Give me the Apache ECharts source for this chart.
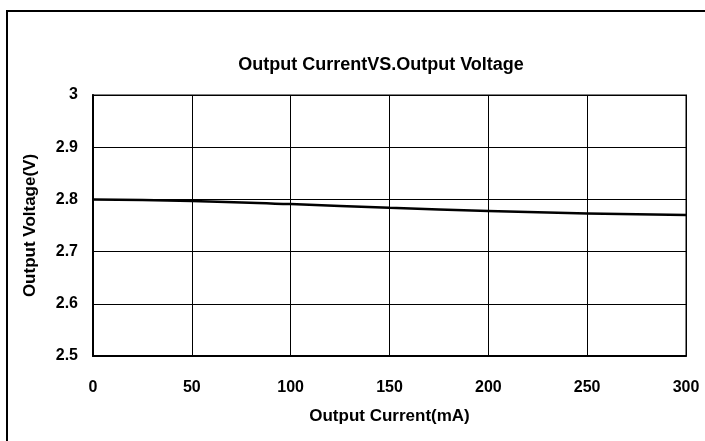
<!DOCTYPE html>
<html>
<head>
<meta charset="utf-8">
<script src="https://cdn.jsdelivr.net/npm/echarts@6/dist/echarts.min.js"></script>
<style>
  html, body { margin: 0; padding: 0; background: #fff; }
  #chart { width: 705px; height: 441px; }
</style>
</head>
<body>
<div id="chart"></div>
<script>
// values
var currentMA = [0, 50, 100, 150, 200, 250, 300];
var voltageV = [2.800, 2.797, 2.791, 2.784, 2.778, 2.773, 2.770];

var titleText = "Output CurrentVS.Output Voltage";
var xName = "Output Current(mA)";
var yName = "Output Voltage(V)";

var font = "'Liberation Sans', Arial, sans-serif";

var points = [];
for (var i = 0; i < currentMA.length; i++) {
  points.push([currentMA[i], voltageV[i]]);
}

var myChart = echarts.init(document.getElementById("chart"));
var option = {
  backgroundColor: "#fff",
  animation: false,
  title: {
    text: titleText,
    left: 376,
    top: 51,
    textAlign: "center",
    textStyle: { fontFamily: font, fontSize: 18, fontWeight: "bold", color: "#000" }
  },
  graphic: [
    {
      // outer frame, only top and left edges visible
      type: "rect",
      shape: { x: 7, y: 11, width: 760, height: 500 },
      style: { fill: null, stroke: "#000", lineWidth: 2 },
      silent: true
    }
  ],
  grid: {
    left: 93,
    right: 19,
    top: 95,
    bottom: 85,
    show: true,
    borderColor: "#808080",
    borderWidth: 2
  },
  xAxis: {
    type: "value",
    min: 0,
    max: 300,
    interval: 50,
    name: xName,
    nameLocation: "middle",
    nameGap: 52,
    nameTextStyle: { fontFamily: font, fontSize: 17, fontWeight: "bold", color: "#000" },
    axisLine: { show: true, onZero: false, lineStyle: { color: "#000", width: 2 } },
    axisTick: { show: false },
    axisLabel: { margin: 24, fontFamily: font, fontSize: 16, fontWeight: "bold", color: "#000" },
    splitLine: { show: true, lineStyle: { color: "#000", width: 1 } }
  },
  yAxis: {
    type: "value",
    min: 2.5,
    max: 3,
    interval: 0.1,
    name: yName,
    nameLocation: "middle",
    nameGap: 54,
    nameTextStyle: { fontFamily: font, fontSize: 17, fontWeight: "bold", color: "#000" },
    axisLine: { show: true, lineStyle: { color: "#000", width: 2 } },
    axisTick: { show: false },
    axisLabel: {
      margin: 15,
      fontFamily: font,
      fontSize: 16,
      fontWeight: "bold",
      color: "#000",
      formatter: function (v) { return String(Math.round(v * 10) / 10); }
    },
    splitLine: { show: true, lineStyle: { color: "#000", width: 1 } }
  },
  series: [
    {
      type: "line",
      data: points,
      smooth: true,
      symbol: "none",
      lineStyle: { color: "#000", width: 2.5 }
    }
  ]
};
option && myChart.setOption(option);
</script>
</body>
</html>
